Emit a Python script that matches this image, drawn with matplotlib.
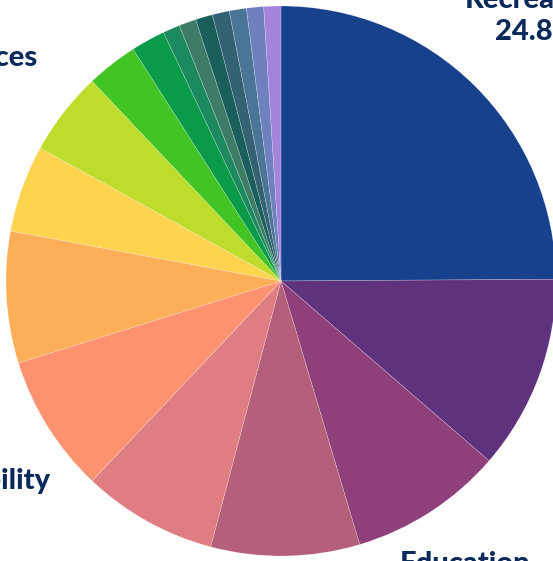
import numpy as np
import matplotlib
matplotlib.use("Agg")
import matplotlib.pyplot as plt

# share of spending per category (percent), clockwise from 12 o'clock
categories = ["Recreation", "Public Works", "Education", "Public Safety",
              "Housing", "Health & Disability", "Transportation", "Parks",
              "Community Services", "Libraries", "Arts", "Planning",
              "Water", "Waste", "Energy", "Technology", "Admin", "Other"]
values = [24.8, 11.4, 9.0, 8.7, 7.9, 8.1, 7.7, 5.1, 4.9, 3.0, 2.0,
          1.0, 1.0, 1.0, 1.0, 1.0, 1.0, 1.0]
colors = ["#17418c", "#5f327e", "#8f3f7a", "#b4607a", "#e07d82", "#fd9270",
          "#fdae58", "#fdd34f", "#bddc2b", "#42c424", "#0a9b4a", "#1c8a5e",
          "#3d7d68", "#1b5f5d", "#346272", "#4b7596", "#6e80be", "#a383dc"]

W, H = 553, 561
cx, cy, R = 281, 281, 275

fig = plt.figure(figsize=(W / 100, H / 100), dpi=100)
ax = fig.add_axes([0, 0, 1, 1])
ax.pie(values, colors=colors, startangle=90, counterclock=False, radius=1,
       wedgeprops=dict(edgecolor=(1, 1, 1, 0.35), linewidth=0.4))
ax.set_xlim(-cx / R, (W - cx) / R)
ax.set_ylim(-(H - cy) / R, cy / R)
ax.set_aspect("auto")
ax.axis("off")


def px(x, y):
    return (x - cx) / R, (cy - y) / R


navy = "#0b2a5b"
fnt = dict(family=["Lato", "DejaVu Sans"], fontweight="black", color=navy)

x, y = px(465, 40)
ax.text(x, y, categories[0] + "\n" + f"{values[0]}%", ha="left", va="baseline",
        multialignment="center", fontsize=21, linespacing=1.3, **fnt)
x, y = px(37, 66)
ax.text(x, y, categories[8], ha="right", va="baseline", fontsize=21, **fnt)
x, y = px(50, 489)
ax.text(x, y, categories[5], ha="right", va="baseline", fontsize=21, **fnt)
x, y = px(400, 572)
ax.text(x, y, categories[2], ha="left", va="baseline", fontsize=21, **fnt)

fig.savefig("out.png", dpi=100)
